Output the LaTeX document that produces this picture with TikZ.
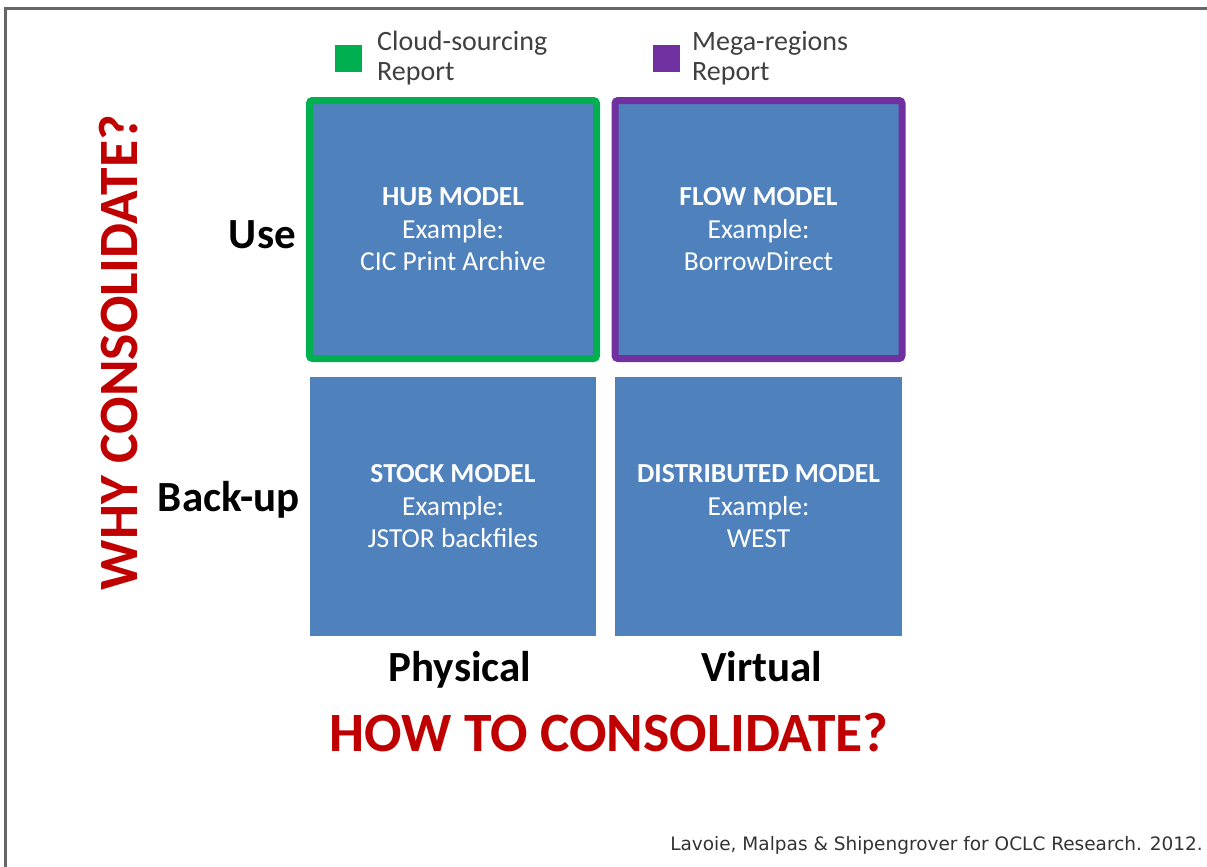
\documentclass[tikz,border=0pt]{standalone}
\usepackage{fontspec}
\setmainfont{Carlito}
\newfontfamily\creditfont{DejaVu Sans}
\definecolor{modelblue}{HTML}{4F81BD}
\definecolor{cloudgreen}{HTML}{00B050}
\definecolor{megapurple}{HTML}{7030A0}
\definecolor{askred}{HTML}{C00000}
\begin{document}
\begin{tikzpicture}[x=1pt,y=1pt,
	model/.style={fill=modelblue,text=white,align=center,inner sep=0pt,minimum width=287pt,minimum height=258pt,font=\fontsize{27.5}{32.5}\selectfont},
	axislabel/.style={inner sep=0pt,font=\fontsize{43}{50}\selectfont\bfseries},
	question/.style={text=askred,inner sep=0pt,font=\fontsize{55.5}{65}\selectfont\bfseries},
	legendbox/.style={inner sep=0pt,minimum size=27pt},
	legendtext/.style={text=black!75,align=left,inner sep=0pt,font=\fontsize{28}{30}\selectfont}]
		\useasboundingbox (0,0) rectangle (1207,-867);
		\draw[line width=3pt,color=black!60] (5.5,-870) -- (5.5,-8.5) -- (1210,-8.5);
		% legend
		\node[legendbox,fill=cloudgreen] (greenkey) at (348.5,-58.5) {};
		\node[legendtext,anchor=base west] (greentext) at (377,-81) {Cloud-sourcing\\Report};
		\node[legendbox,fill=megapurple] (purplekey) at (666,-58.5) {};
		\node[legendtext,anchor=base west] (purpletext) at (692,-81) {Mega-regions\\Report};
		% the four models
		\node[model,draw=cloudgreen,line width=7pt,rounded corners=3pt] (hub) at (453,-229.5) {\textbf{HUB MODEL}\\Example:\\CIC Print Archive};
		\node[model,draw=megapurple,line width=7pt,rounded corners=3pt] (flow) at (758.5,-229.5) {\textbf{FLOW MODEL}\\Example:\\BorrowDirect};
		\node[model,minimum width=286pt,minimum height=259pt] (stock) at (453,-506.5) {\textbf{STOCK MODEL}\\Example:\\JSTOR backfiles};
		\node[model,minimum height=259pt] (distributed) at (758.5,-506.5) {\textbf{DISTRIBUTED MODEL}\\Example:\\WEST};
		% axes
		\node[axislabel,anchor=base east] (use) at (296,-248) {Use};
		\node[axislabel,anchor=base east] (backup) at (300,-511) {Back-up};
		\node[axislabel,anchor=base] (physical) at (460,-681) {Physical};
		\node[axislabel,anchor=base] (virtual) at (762,-681) {Virtual};
		\node[question,anchor=base] (how) at (609,-751) {HOW TO CONSOLIDATE?};
		\node[question,anchor=base,rotate=90] (why) at (137,-352.5) {WHY CONSOLIDATE?};
		\node[anchor=base east,inner sep=0pt,text=black!80,font=\creditfont\fontsize{18.5}{20}\selectfont] (credit) at (1203,-850) {Lavoie, Malpas \& Shipengrover for OCLC Research. 2012.};
\end{tikzpicture}
\end{document}
